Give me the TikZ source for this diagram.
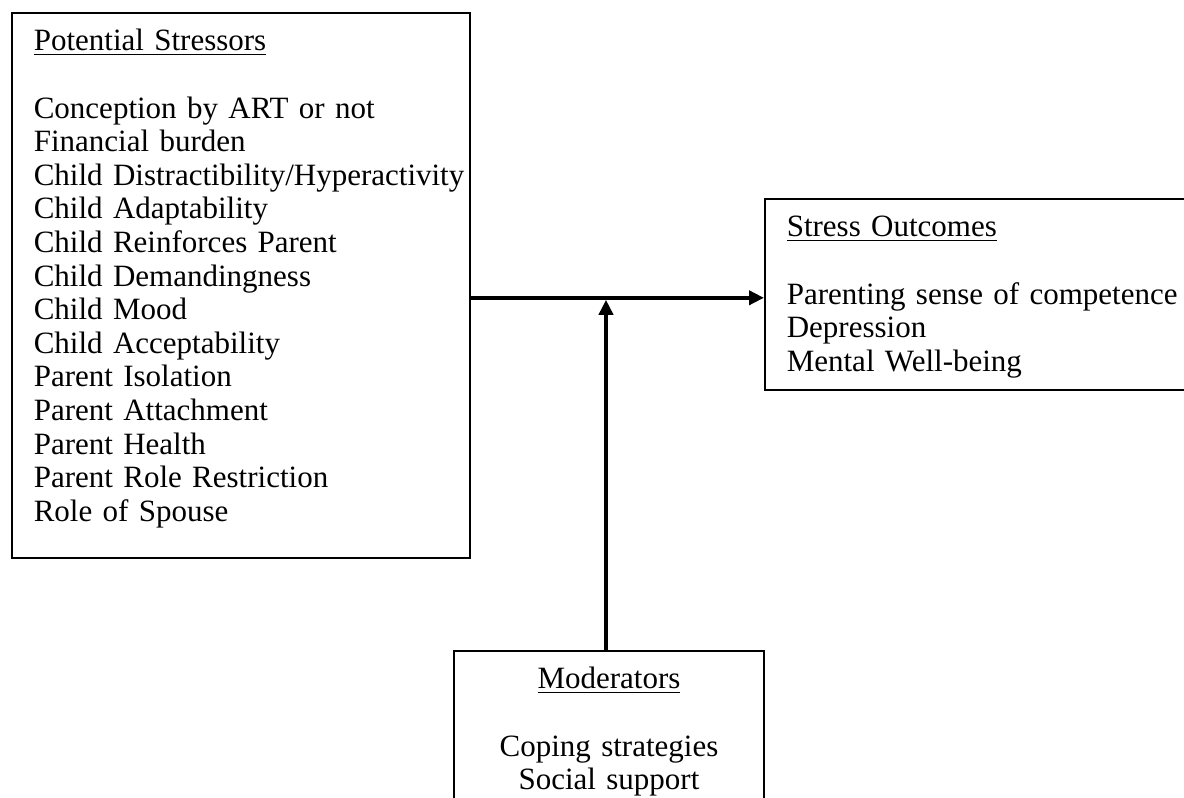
\documentclass[tikz,border=0pt]{standalone}
\usepackage{fontspec}
\setmainfont{Liberation Serif}
\usetikzlibrary{arrows.meta}

\begin{document}
\begin{tikzpicture}[x=0.5pt,y=-0.5pt,>={Triangle[length=7.5pt,width=7pt]},
	box/.style={draw,line width=0.8pt,inner xsep=11pt,inner ysep=8.5pt,text height=10.5pt,
		font=\fontsize{15.5pt}{16.8pt}\selectfont,align=left},
	link/.style={->,line width=2pt}]
	\useasboundingbox (0,0) rectangle (1184,798);
	\clip (0,0) rectangle (1184,798);
		\node[box,anchor=north west,text width=207pt,text depth=245pt] (stress) at (11,12) {\underline{Potential Stressors}\\[\baselineskip]
			Conception by ART or not\\ Financial burden\\ \mbox{Child Distractibility/Hyperactivity}\\ Child Adaptability\\
			Child Reinforces Parent\\ Child Demandingness\\ Child Mood\\ Child Acceptability\\ Parent Isolation\\
			Parent Attachment\\ Parent Health\\ Parent Role Restriction\\ Role of Spouse};
		\node[box,anchor=north west,text width=260pt,text depth=68pt] (outc) at (764,198) {\underline{Stress Outcomes}\\[\baselineskip]
			Parenting sense of competence\\ Depression\\ Mental Well-being};
		\node[box,anchor=north,text width=133pt,text depth=80pt,align=center] (moder) at (609,650) {\underline{Moderators}\\[\baselineskip]
			Coping strategies\\ Social support};
		\coordinate (hline) at ([yshift=-1.75pt]outc.west);
		\coordinate (vstart) at ([xshift=-1.5pt]moder.north);
		\draw[link] (stress.east |- hline) -- (hline);
		\draw[link] (vstart) -- ([yshift=-1pt]vstart |- hline);
\end{tikzpicture}
\end{document}
